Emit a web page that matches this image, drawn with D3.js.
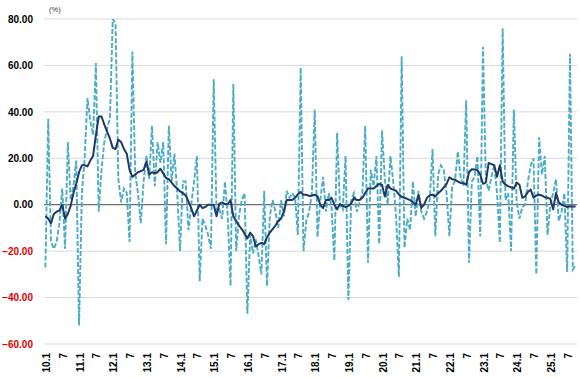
<!DOCTYPE html>
<html>
<head>
<meta charset="utf-8">
<script src="https://cdn.jsdelivr.net/npm/d3@7"></script>
<style>
  body { margin: 0; background: #fff; }
  text { font-family: "Liberation Sans", Arial, sans-serif; }
</style>
</head>
<body>
<div id="chart"></div>
<script>
// monthly change (%), 2010.1 - 2025.10
var monthly = [
  -27, 37, -16, -19, -16, -8, 7, -19, 27, 2, 8, 19,
  -52, 5, 20, 46, 36, 30, 61, -3, 15, 27, 33, 37,
  80, 78, 11, 1, 7, 5, -16, 66, 14, 5, -8, 10,
  21, 11, 34, 8, 27, 18, 27, -17, 34, 10, 22, 5,
  -20, 10, 10, -11, 0, 10, 21, -33, -6, -9, -13, -19,
  54, -3, -2, -6, 10, -5, -35, 52, -20, -5, 2, 5,
  -47, -13, -21, -15, -22, -30, 6, -35, -5, 2, -3, -10,
  2, -5, 6, 3, 5, 3, -13, 59, -20, -7, -3, 5,
  41, -14, 2, 12, -3, 5, -1, -24, 31, 0, -2, 21,
  -41, 2, 5, -3, 1, 5, 34, -25, 15, 8, 21, -17,
  32, 11, 0, 21, 10, -5, -31, 64, -18.6, -6, -11, 10,
  -5, 6, -3, -6, -3, 2, 24, -13.6, 13, 17, 15, 5,
  -13.6, 8, 10, 23, 12, 8, 45, -25, 10, 12, 21, -13.6,
  68, 11, 6, 12, 17, 5, -16.4, 76, 2, 5, -20, 41,
  1, -6, -1, 0, 10, 17, 20, -30, 29, 13, 21, -13,
  0, 5, 11, -7, -3, 5, -29, 65, -28, -26
];

// moving average (%)
var average = [
  -5, -6, -8, -4, -3, -2.5, 0, -6, -4, -0.5, 5, 9,
  14, 17, 17, 16.5, 19, 21, 30, 38, 38, 34.5, 31.5, 28.5,
  24.5, 24, 28, 27, 24, 22, 15, 12, 13, 14, 14.5, 15,
  18.5, 13, 14, 13.5, 14, 15.5, 13.5, 11.5, 11, 9.5, 8, 7,
  5.7, 5, 4, 1.4, -1.5, -5, -2.5, 0, -1.5, -1, 0, 0,
  0, -5, 0.5, 1, 0.3, 0.3, 2, -5, -7, -9, -10.5, -12.5,
  -14.5, -12, -13.5, -18, -17, -16.4, -17, -14, -12, -10.5, -9, -7,
  -6, -3, 2, 2, 2, 3, 4.5, 5.5, 4.3, 4.3, 3.8, 4,
  4.3, 3.6, 0, -1.5, 2, 2, 3, 0, -2, 0.3, -0.5, -1,
  -0.5, 0.5, 3, 2, 2, 3, 5, 7, 7, 7, 8, 9,
  8.5, 3.5, 8.5, 7, 6.5, 6, 4.5, 3.3, 3, 2.5, 2, 1,
  0, 4.3, -1.4, 0, 3, 4, 4.3, 3.6, 5, 6, 7.5, 9,
  11.8, 11, 10.8, 10, 9.4, 9.3, 8.6, 14, 15.3, 15.2, 15, 13,
  9, 9.5, 18, 17.5, 17, 12, 17, 10, 8.6, 8, 7.5, 7,
  9.5, 8.6, 3, 3.6, 5.5, 6.5, 3, 4, 4.3, 4, 3.2, 3,
  2.5, -2, 5, 1, 0, -0.5, -1, -0.7, -0.8, -0.8
];

var yTicks = [-60, -40, -20, 0, 20, 40, 60, 80];

// categories "10.1" ... "25.10"
var months = [];
for (var yr = 10; yr <= 25; yr++) {
  for (var m = 1; m <= 12; m++) {
    if (months.length < monthly.length) months.push(yr + "." + m);
  }
}

var margin = {top: 19, right: 3, bottom: 34, left: 44},
    width = 580 - margin.left - margin.right,
    height = 378 - margin.top - margin.bottom;

var svg = d3.select("#chart").append("svg")
    .attr("width", 580)
    .attr("height", 378)
  .append("g")
    .attr("transform", "translate(" + margin.left + "," + margin.top + ")");

var x = d3.scaleBand()
    .domain(months)
    .range([0, width]);

var y = d3.scaleLinear()
    .domain([-60, 80])
    .range([height, 0]);

function cx(d, i) { return x(months[i]) + x.bandwidth() / 2; }

// gridlines
svg.append("g")
  .selectAll("line")
  .data(yTicks)
  .enter().append("line")
    .attr("x1", 0)
    .attr("x2", width)
    .attr("y1", function(d) { return y(d); })
    .attr("y2", function(d) { return y(d); })
    .style("stroke", function(d) { return d === 0 ? "#6e6e6e" : "#d9d9d9"; })
    .style("stroke-width", function(d) { return d === 0 ? 1.2 : 1; });

// y labels
var yAxis = d3.axisLeft(y)
    .tickValues(yTicks)
    .tickSize(0)
    .tickPadding(11)
    .tickFormat(d3.format(".2f"));

var gy = svg.append("g").call(yAxis);
gy.select(".domain").remove();
gy.selectAll("text")
    .style("font-size", "10px")
    .style("font-weight", "bold")
    .style("fill", function(d) { return d < 0 ? "#e00000" : "#000"; });

svg.append("text")
    .attr("x", 5)
    .attr("y", -7)
    .style("font-size", "7.5px")
    .style("fill", "#333")
    .text("(%)");

// x labels every 6 months
var xAxis = d3.axisBottom(x)
    .tickValues(months.filter(function(d) {
      var mm = d.split(".")[1];
      return mm === "1" || mm === "7";
    }))
    .tickSize(0)
    .tickFormat(function(d) {
      var p = d.split(".");
      return p[1] === "1" ? d : "7";
    });

var gx = svg.append("g")
    .attr("transform", "translate(0," + height + ")")
    .call(xAxis);
gx.select(".domain").remove();
gx.selectAll("text")
    .attr("transform", "rotate(-90)")
    .attr("x", -9)
    .attr("y", 1)
    .attr("dy", "0.35em")
    .style("text-anchor", "end")
    .style("font-size", "10px")
    .style("font-weight", "bold")
    .style("fill", "#000");

svg.append("clipPath")
    .attr("id", "clip")
  .append("rect")
    .attr("x", -2)
    .attr("y", 0)
    .attr("width", width + 4)
    .attr("height", height);

var line = d3.line()
    .x(cx)
    .y(function(d) { return y(d); });

svg.append("path")
    .datum(monthly)
    .attr("clip-path", "url(#clip)")
    .attr("d", line)
    .style("fill", "none")
    .style("stroke", "#4bacc6")
    .style("stroke-width", 1.9)
    .style("stroke-dasharray", "5,2");

svg.append("path")
    .datum(average)
    .attr("d", line)
    .style("fill", "none")
    .style("stroke", "#1f3864")
    .style("stroke-width", 2)
    .style("stroke-linejoin", "round");
</script>
</body>
</html>
